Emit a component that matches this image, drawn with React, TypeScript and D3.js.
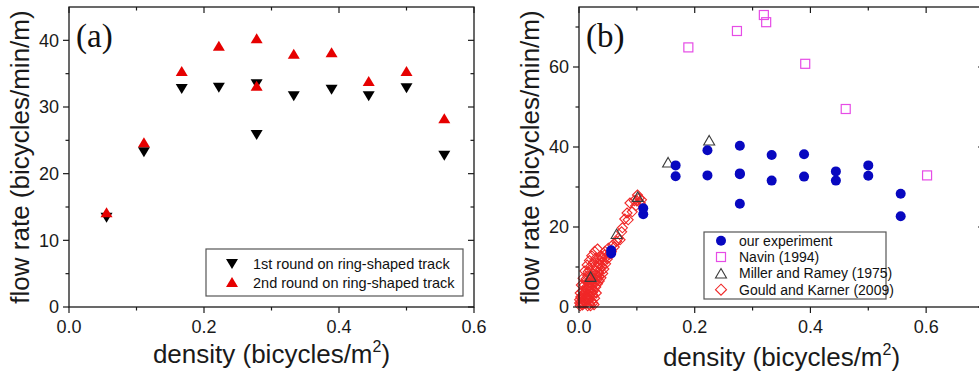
import React from "react";
import * as d3 from "d3";

// ---------- data ----------
const densities = [0.0556, 0.111, 0.167, 0.222, 0.278, 0.278, 0.333, 0.389, 0.444, 0.5, 0.556];
const round1 = [13.4, 23.2, 32.7, 32.9, 33.4, 25.8, 31.6, 32.6, 31.6, 32.8, 22.7];
const round2 = [14.2, 24.7, 35.4, 39.2, 40.3, 33.2, 38.0, 38.2, 33.9, 35.4, 28.3];

const navinX = [0.189, 0.273, 0.3195, 0.3235, 0.391, 0.461, 0.6016];
const navinY = [64.9, 69.0, 73.0, 71.2, 60.8, 49.5, 32.9];

const millerX = [0.02, 0.065, 0.1015, 0.154, 0.225];
const millerY = [7.6, 18.3, 27.6, 36.2, 41.7];

const gouldX = [
  0.104, 0.101, 0.0955, 0.106, 0.088, 0.098, 0.083, 0.079, 0.0737, 0.068, 0.065, 0.058, 0.0507, 0.045,
  0.047, 0.039, 0.042, 0.036, 0.04, 0.033, 0.037, 0.03, 0.034, 0.027, 0.031, 0.024, 0.028, 0.021, 0.025,
  0.019, 0.022, 0.017, 0.02, 0.015, 0.018, 0.013, 0.016, 0.011, 0.014, 0.009, 0.012, 0.007, 0.01, 0.005,
  0.008, 0.004, 0.006, 0.003, 0.002, 0.026, 0.022, 0.03, 0.027, 0.024, 0.035, 0.029, 0.032, 0.026, 0.023,
  0.038, 0.041, 0.043, 0.046, 0.049, 0.053, 0.056, 0.061, 0.071, 0.075, 0.085, 0.092, 0.1, 0.108,
  0.002, 0.004, 0.007, 0.01, 0.014, 0.018, 0.022, 0.027, 0.032, 0.001, 0.012, 0.016,
  0.001, 0.003, 0.006, 0.009, 0.012, 0.015, 0.018, 0.021, 0.025, 0.029, 0.012, 0.016, 0.019, 0.023,
  0.028, 0.031, 0.034, 0.036, 0.04, 0.044, 0.015, 0.018, 0.02, 0.024, 0.009, 0.006, 0.013, 0.017,
  0.02, 0.024,
];
const gouldY = [
  27.2, 28.0, 26.6, 26.0, 26.0, 25.3, 23.5, 22.0, 18.8, 17.2, 16.4, 15.5, 14.7, 13.9,
  12.5, 12.7, 11.3, 11.8, 10.2, 10.8, 9.5, 10.0, 8.7, 9.2, 7.8, 8.4, 7.0, 7.6, 6.2,
  6.8, 5.5, 6.0, 4.8, 5.3, 4.0, 4.6, 3.3, 3.9, 2.6, 3.2, 2.0, 2.6, 1.4, 2.0,
  0.8, 1.3, 0.5, 0.8, 0.3, 0.6, 1.5, 3.5, 2.2, 3.0, 6.5, 5.0, 5.8, 4.2, 3.6,
  7.3, 8.4, 9.5, 10.8, 12.0, 13.2, 13.8, 15.0, 16.8, 19.8, 21.8, 23.8, 26.5, 26.8,
  3.5, 5.5, 7.2, 9.0, 10.5, 11.6, 12.8, 13.9, 14.5, 1.8, 7.0, 8.8,
  1.0, 2.5, 4.0, 5.5, 6.5, 7.8, 9.2, 10.3, 11.2, 12.2, 0.9, 1.8, 2.7, 4.5,
  6.0, 6.8, 7.6, 10.5, 12.2, 13.0, 0.3, 0.6, 0.3, 1.0, 1.5, 3.0, 3.0, 5.0,
  6.0, 7.0,
];

const xTicksA = [0, 0.2, 0.4, 0.6];
const xMinorA = [0.1, 0.3, 0.5];
const yTicksA = [0, 10, 20, 30, 40];
const yMinorA = [5, 15, 25, 35];
const xTicksB = [0, 0.2, 0.4, 0.6];
const xMinorB = [0.1, 0.3, 0.5];
const yTicksB = [0, 20, 40, 60];
const yMinorB = [10, 30, 50, 70];

const legendA = ["1st round on ring-shaped track", "2nd round on ring-shaped track"];
const legendB = ["our experiment", "Navin (1994)", "Miller and Ramey (1975)", "Gould and Karner (2009)"];

// ---------- styles ----------
const FONT = "'Liberation Sans', Arial, sans-serif";
const SERIF = "'Liberation Serif', 'Times New Roman', serif";
const AXIS = "#1a1a1a";
const RED = "#e60000";
const BLUE = "#0808c0";
const MAGENTA = "#e64ce6";
const GRAY = "#3a3a3a";
const DIAMOND = "#f02828";

const TOP = 7;
const BOTTOM = 307;

const triUp = (w: number, h: number) => `M0,${-h / 2}L${w / 2},${h / 2}L${-w / 2},${h / 2}Z`;
const triDown = (w: number, h: number) => `M0,${h / 2}L${w / 2},${-h / 2}L${-w / 2},${-h / 2}Z`;
const diamond = (r: number) => `M0,${-r}L${r},0L0,${r}L${-r},0Z`;

type Sc = d3.ScaleLinear<number, number>;

function Frame({ x, y, xt, xm, yt, ym, fmtX }: { x: Sc; y: Sc; xt: number[]; xm: number[]; yt: number[]; ym: number[]; fmtX: (v: number) => string }) {
  const [x0, x1] = x.range();
  const [y0, y1] = y.range();
  const MJ = 6;
  const MN = 3.5;
  return (
    <g>
      <rect x={x0} y={y1} width={x1 - x0} height={y0 - y1} fill="none" stroke={AXIS} strokeWidth={1.3} />
      {xt.map((v) => (
        <g key={"xt" + v}>
          <line x1={x(v)} x2={x(v)} y1={y0} y2={y0 + MJ} stroke={AXIS} strokeWidth={1.2} />
          <line x1={x(v)} x2={x(v)} y1={y1} y2={y1 + MJ} stroke={AXIS} strokeWidth={1.2} />
          <text x={x(v)} y={y0 + 26} textAnchor="middle" fontSize={18} fontFamily={FONT} fill={AXIS}>
            {fmtX(v)}
          </text>
        </g>
      ))}
      {xm.map((v) => (
        <g key={"xm" + v}>
          <line x1={x(v)} x2={x(v)} y1={y0} y2={y0 + MN} stroke={AXIS} strokeWidth={1.2} />
          <line x1={x(v)} x2={x(v)} y1={y1} y2={y1 + MN} stroke={AXIS} strokeWidth={1.2} />
        </g>
      ))}
      {yt.map((v) => (
        <g key={"yt" + v}>
          <line x1={x0} x2={x0 - MJ} y1={y(v)} y2={y(v)} stroke={AXIS} strokeWidth={1.2} />
          <line x1={x1} x2={x1 - MJ} y1={y(v)} y2={y(v)} stroke={AXIS} strokeWidth={1.2} />
          <text x={x0 - 10} y={y(v)} dy="0.36em" textAnchor="end" fontSize={18} fontFamily={FONT} fill={AXIS}>
            {v}
          </text>
        </g>
      ))}
      {ym.map((v) => (
        <g key={"ym" + v}>
          <line x1={x0} x2={x0 - MN} y1={y(v)} y2={y(v)} stroke={AXIS} strokeWidth={1.2} />
          <line x1={x1} x2={x1 - MN} y1={y(v)} y2={y(v)} stroke={AXIS} strokeWidth={1.2} />
        </g>
      ))}
    </g>
  );
}

function Titles({ x, titleX, xBase, yBase, label }: { x: Sc; titleX: number; xBase: number; yBase: number; label: string }) {
  const [x0] = x.range();
  const cy = (TOP + BOTTOM) / 2;
  return (
    <g>
      <text x={titleX} y={xBase} textAnchor="middle" fontSize={26} fontFamily={FONT} fill={AXIS}>
        density (bicycles/m
        <tspan fontSize={16} dy={-11}>2</tspan>
        <tspan dy={11}>)</tspan>
      </text>
      <text transform={`translate(${yBase},${cy}) rotate(-90)`} textAnchor="middle" fontSize={26} fontFamily={FONT} fill={AXIS}>
        flow rate (bicycles/min/m)
      </text>
      <text x={x0 + 7} y={47} fontSize={33} fontFamily={SERIF} fill="#111">
        {label}
      </text>
    </g>
  );
}

export default function App() {
  const xA = d3.scaleLinear().domain([0, 0.6]).range([69, 474]);
  const yA = d3.scaleLinear().domain([0, 45]).range([BOTTOM, TOP]);
  const xB = d3.scaleLinear().domain([0, 0.7]).range([579, 984]);
  const yB = d3.scaleLinear().domain([0, 75]).range([BOTTOM, TOP]);
  const fmt = d3.format(".1f");

  const expX = densities.concat(densities);
  const expY = round1.concat(round2);

  return (
    <svg width={979} height={379} style={{ position: "absolute", left: 0, top: 0, background: "#fff" }}>
      <rect x={0} y={0} width={979} height={379} fill="#fff" />
      {/* ---------- panel (a) ---------- */}
      <g>
        {densities.map((d, i) => (
          <path key={"r1" + i} d={triDown(12, 10)} transform={`translate(${xA(d)},${yA(round1[i])})`} fill="#000" />
        ))}
        {densities.map((d, i) => (
          <path key={"r2" + i} d={triUp(12, 10)} transform={`translate(${xA(d)},${yA(round2[i])})`} fill={RED} />
        ))}
        <Frame x={xA} y={yA} xt={xTicksA} xm={xMinorA} yt={yTicksA} ym={yMinorA} fmtX={fmt} />
        <Titles x={xA} titleX={(xA.range()[0] + xA.range()[1]) / 2} xBase={363} yBase={29} label="(a)" />
        <g>
          <rect x={206} y={249} width={257} height={47} fill="#fff" stroke="#555" strokeWidth={1.2} />
          <path d={triDown(12, 10)} transform="translate(232,264)" fill="#000" />
          <path d={triUp(12, 10)} transform="translate(232,282)" fill={RED} />
          {legendA.map((t, i) => (
            <text key={t} x={253} y={264 + i * 18.5} dy="0.35em" fontSize={14.5} fontFamily={FONT} fill="#111">
              {t}
            </text>
          ))}
        </g>
      </g>
      {/* ---------- panel (b) ---------- */}
      <g>
        {gouldX.map((d, i) => (
          <path key={"g" + i} d={diamond(5)} transform={`translate(${xB(d)},${yB(gouldY[i])})`} fill="none" stroke={DIAMOND} strokeWidth={1.1} />
        ))}
        {millerX.map((d, i) => (
          <path key={"m" + i} d={triUp(11, 9.5)} transform={`translate(${xB(d)},${yB(millerY[i])})`} fill="none" stroke={GRAY} strokeWidth={1.1} />
        ))}
        {navinX.map((d, i) => (
          <rect key={"n" + i} x={xB(d) - 4.5} y={yB(navinY[i]) - 4.5} width={9} height={9} fill="none" stroke={MAGENTA} strokeWidth={1.2} />
        ))}
        {expX.map((d, i) => (
          <circle key={"e" + i} cx={xB(d)} cy={yB(expY[i])} r={5} fill={BLUE} />
        ))}
        <Frame x={xB} y={yB} xt={xTicksB} xm={xMinorB} yt={yTicksB} ym={yMinorB} fmtX={fmt} />
        <Titles x={xB} titleX={(xB.range()[0] + xB.range()[1]) / 2} xBase={366} yBase={539} label="(b)" />
        <g>
          <rect x={704} y={232} width={182} height={67} fill="#fff" stroke="#555" strokeWidth={1.2} />
          <circle cx={721} cy={240.7} r={5} fill={BLUE} />
          <rect x={716.5} y={252.5} width={9} height={9} fill="none" stroke={MAGENTA} strokeWidth={1.2} />
          <path d={triUp(11, 9.5)} transform="translate(721,273.3)" fill="none" stroke={GRAY} strokeWidth={1.1} />
          <path d={diamond(5.5)} transform="translate(721,289.7)" fill="none" stroke={DIAMOND} strokeWidth={1.1} />
          {legendB.map((t, i) => (
            <text key={t} x={739} y={240.7 + i * 16.33} dy="0.35em" fontSize={14} fontFamily={FONT} fill="#111">
              {t}
            </text>
          ))}
        </g>
      </g>
    </svg>
  );
}
